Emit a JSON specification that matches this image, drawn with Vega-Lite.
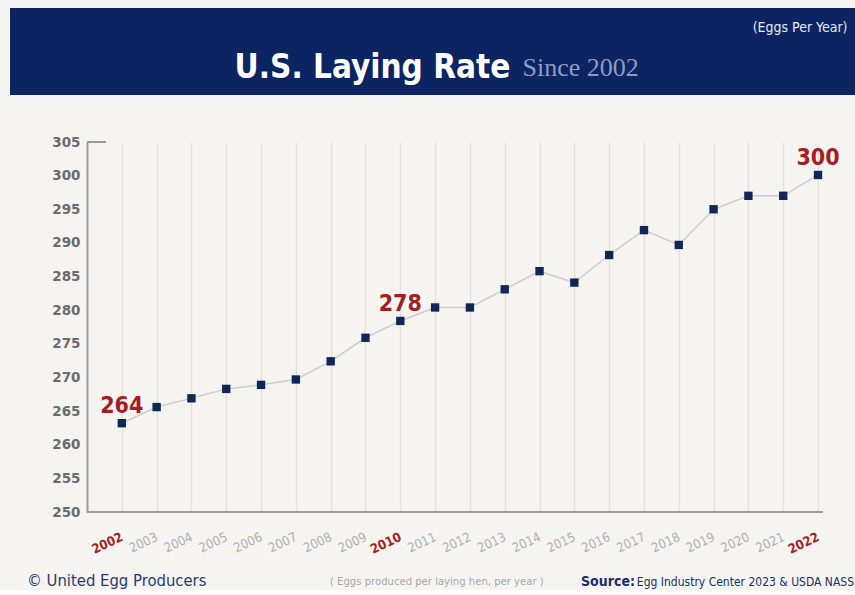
{
  "$schema": "https://vega.github.io/schema/vega-lite/v6.json",
  "background": "#f5f4f1",
  "padding": {"left": 10, "top": 8, "right": 0, "bottom": 0},
  "spacing": 47,
  "bounds": "flush",
  "config": {"view": {"stroke": null}},
  "vconcat": [
    {
      "width": 845,
      "height": 87,
      "view": {"fill": "#0c2461", "stroke": null},
      "data": {"values": [{"title": "U.S. Laying Rate", "sub": "Since 2002", "unit": "(Eggs Per Year)"}]},
      "layer": [
        {
          "mark": {"type": "text", "align": "center", "baseline": "alphabetic", "dx": -60, "dy": 26, "font": "DejaVu Sans Condensed, DejaVu Sans, sans-serif", "fontWeight": "bold", "fontSize": 33, "color": "#ffffff"},
          "encoding": {"text": {"field": "title"}}
        },
        {
          "mark": {"type": "text", "align": "left", "baseline": "alphabetic", "dx": 90, "dy": 24, "font": "Liberation Serif, DejaVu Serif, serif", "fontSize": 26, "color": "#8e9cc4"},
          "encoding": {"text": {"field": "sub"}}
        },
        {
          "mark": {"type": "text", "align": "right", "baseline": "alphabetic", "dx": 415, "dy": -20, "font": "DejaVu Sans Condensed, DejaVu Sans, sans-serif", "fontSize": 14, "color": "#e6e9f2"},
          "encoding": {"text": {"field": "unit"}}
        }
      ]
    },
    {
      "width": 813,
      "height": 370,
      "data": {"values": [
        {"year": 2002, "rate": 263.2, "label": "264"},
        {"year": 2003, "rate": 265.6},
        {"year": 2004, "rate": 266.9},
        {"year": 2005, "rate": 268.3},
        {"year": 2006, "rate": 268.9},
        {"year": 2007, "rate": 269.7},
        {"year": 2008, "rate": 272.4},
        {"year": 2009, "rate": 275.9},
        {"year": 2010, "rate": 278.4, "label": "278"},
        {"year": 2011, "rate": 280.4},
        {"year": 2012, "rate": 280.4},
        {"year": 2013, "rate": 283.1},
        {"year": 2014, "rate": 285.8},
        {"year": 2015, "rate": 284.1},
        {"year": 2016, "rate": 288.2},
        {"year": 2017, "rate": 291.9},
        {"year": 2018, "rate": 289.7},
        {"year": 2019, "rate": 295.0},
        {"year": 2020, "rate": 297.0},
        {"year": 2021, "rate": 297.0},
        {"year": 2022, "rate": 300.1, "label": "300"}
      ]},
      "encoding": {
        "x": {
          "field": "year", "type": "quantitative",
          "scale": {"domain": [1998.788, 2022.143], "nice": false, "zero": false},
          "axis": {
            "title": null,
            "values": [2002, 2003, 2004, 2005, 2006, 2007, 2008, 2009, 2010, 2011, 2012, 2013, 2014, 2015, 2016, 2017, 2018, 2019, 2020, 2021, 2022],
            "format": "d",
            "grid": true, "gridColor": "#e4e2de", "gridWidth": 1.5,
            "domain": false,
            "ticks": false,
            "labelAngle": -25, "labelAlign": "right", "labelBaseline": "middle", "labelPadding": 24,
            "labelFont": "DejaVu Sans Condensed, DejaVu Sans, sans-serif", "labelFontSize": 13,
            "labelColor": {"condition": {"test": "datum.value == 2002 || datum.value == 2010 || datum.value == 2022", "value": "#a31f24"}, "value": "#b0b0b0"},
            "labelFontWeight": {"condition": {"test": "datum.value == 2002 || datum.value == 2010 || datum.value == 2022", "value": "bold"}, "value": "normal"},
            "labelOverlap": false
          }
        },
        "y": {
          "field": "rate", "type": "quantitative",
          "scale": {"domain": [250, 305], "nice": false, "zero": false},
          "axis": {
            "title": null,
            "offset": -77,
            "values": [250, 255, 260, 265, 270, 275, 280, 285, 290, 295, 300, 305],
            "grid": false,
            "domain": true, "domainColor": "#9a9a9a", "domainWidth": 2,
            "ticks": false,
            "labelPadding": 7,
            "labelFont": "DejaVu Sans, sans-serif", "labelFontWeight": "bold", "labelFontSize": 13.5, "labelColor": "#6b6b6b"
          }
        }
      },
      "layer": [
        {
          "mark": {"type": "rule", "color": "#9a9a9a", "strokeWidth": 2},
          "encoding": {"x": {"datum": 2001}, "x2": {"datum": 2001.52}, "y": {"datum": 305}}
        },
        {
          "mark": {"type": "rule", "color": "#9a9a9a", "strokeWidth": 2},
          "encoding": {"x": {"datum": 2001}, "x2": {"datum": 2022.143}, "y": {"datum": 250}}
        },
        {"mark": {"type": "line", "color": "#cfcecb", "strokeWidth": 1.5}},
        {"mark": {"type": "point", "shape": "square", "filled": true, "size": 70, "color": "#0f2657", "opacity": 1}},
        {
          "transform": [{"filter": "isValid(datum.label)"}],
          "mark": {"type": "text", "baseline": "alphabetic", "align": "center", "dy": -10, "font": "DejaVu Sans Condensed, DejaVu Sans, sans-serif", "fontWeight": "bold", "fontSize": 23, "color": "#a31f24"},
          "encoding": {"text": {"field": "label"}}
        },
        {
          "data": {"values": [{"t": "© United Egg Producers"}]},
          "mark": {"type": "text", "align": "left", "baseline": "alphabetic", "font": "DejaVu Sans Condensed, DejaVu Sans, sans-serif", "fontSize": 16.5, "color": "#2a3a6e"},
          "encoding": {"x": {"value": 17}, "y": {"value": 444}, "text": {"field": "t"}}
        },
        {
          "data": {"values": [{"t": "( Eggs produced per laying hen, per year )"}]},
          "mark": {"type": "text", "align": "left", "baseline": "alphabetic", "font": "DejaVu Sans Condensed, DejaVu Sans, sans-serif", "fontSize": 11.2, "color": "#a8a8a8"},
          "encoding": {"x": {"value": 320}, "y": {"value": 443}, "text": {"field": "t"}}
        },
        {
          "data": {"values": [{"t": "Source:"}]},
          "mark": {"type": "text", "align": "right", "baseline": "alphabetic", "font": "DejaVu Sans Condensed, DejaVu Sans, sans-serif", "fontSize": 14, "fontWeight": "bold", "color": "#1b2f66"},
          "encoding": {"x": {"value": 625}, "y": {"value": 444}, "text": {"field": "t"}}
        },
        {
          "data": {"values": [{"t": "Egg Industry Center 2023 & USDA NASS"}]},
          "mark": {"type": "text", "align": "right", "baseline": "alphabetic", "font": "DejaVu Sans Condensed, DejaVu Sans, sans-serif", "fontSize": 12, "color": "#1b2f66"},
          "encoding": {"x": {"value": 844}, "y": {"value": 444}, "text": {"field": "t"}}
        }
      ]
    }
  ]
}
